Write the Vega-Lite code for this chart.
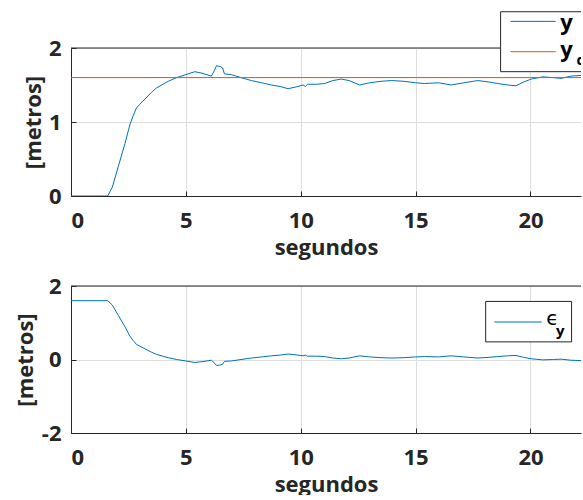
{
  "$schema": "https://vega.github.io/schema/vega-lite/v6.json",
  "padding": {"left": 14, "top": 11, "right": 0, "bottom": 0},
  "background": "white",
  "config": {
    "view": {"stroke": null},
    "font": "Open Sans",
    "axis": {
      "labelFont": "Open Sans",
      "labelFontWeight": "bold",
      "labelFontSize": 22,
      "labelColor": "#262626",
      "labelExpr": "'' + datum.value",
      "titleFont": "Open Sans",
      "titleFontWeight": "bold",
      "titleFontSize": 22,
      "titleColor": "#262626",
      "domainColor": "#262626",
      "domainWidth": 1,
      "tickColor": "#262626",
      "tickSize": -5,
      "gridColor": "#dedede",
      "gridWidth": 1
    }
  },
  "datasets": {
    "senal": [
      {"t": 0, "valor": 0}, {"t": 1.6, "valor": 0}, {"t": 1.8, "valor": 0.12},
      {"t": 2.06, "valor": 0.4}, {"t": 2.35, "valor": 0.71}, {"t": 2.56, "valor": 0.96},
      {"t": 2.7, "valor": 1.08}, {"t": 2.85, "valor": 1.19}, {"t": 3.0, "valor": 1.24},
      {"t": 3.22, "valor": 1.31}, {"t": 3.5, "valor": 1.4}, {"t": 3.72, "valor": 1.46},
      {"t": 4.0, "valor": 1.51}, {"t": 4.23, "valor": 1.55}, {"t": 4.6, "valor": 1.6},
      {"t": 5.0, "valor": 1.64}, {"t": 5.39, "valor": 1.68}, {"t": 5.7, "valor": 1.66},
      {"t": 6.11, "valor": 1.62}, {"t": 6.25, "valor": 1.7}, {"t": 6.33, "valor": 1.76},
      {"t": 6.5, "valor": 1.75}, {"t": 6.6, "valor": 1.73}, {"t": 6.68, "valor": 1.65},
      {"t": 6.98, "valor": 1.64}, {"t": 7.4, "valor": 1.6}, {"t": 7.85, "valor": 1.56},
      {"t": 8.3, "valor": 1.53}, {"t": 8.72, "valor": 1.5}, {"t": 9.1, "valor": 1.48},
      {"t": 9.45, "valor": 1.45}, {"t": 9.88, "valor": 1.48}, {"t": 10.1, "valor": 1.5},
      {"t": 10.2, "valor": 1.48}, {"t": 10.3, "valor": 1.51}, {"t": 10.7, "valor": 1.51},
      {"t": 11.04, "valor": 1.52}, {"t": 11.4, "valor": 1.56}, {"t": 11.77, "valor": 1.58},
      {"t": 12.1, "valor": 1.56}, {"t": 12.57, "valor": 1.5}, {"t": 13.0, "valor": 1.53},
      {"t": 13.5, "valor": 1.55}, {"t": 13.94, "valor": 1.56}, {"t": 14.5, "valor": 1.55},
      {"t": 15.0, "valor": 1.53}, {"t": 15.39, "valor": 1.52}, {"t": 16.0, "valor": 1.53},
      {"t": 16.55, "valor": 1.5}, {"t": 17.1, "valor": 1.53}, {"t": 17.71, "valor": 1.56},
      {"t": 18.2, "valor": 1.54}, {"t": 18.58, "valor": 1.52}, {"t": 19.0, "valor": 1.5},
      {"t": 19.37, "valor": 1.49}, {"t": 19.7, "valor": 1.54}, {"t": 20.03, "valor": 1.58},
      {"t": 20.53, "valor": 1.61}, {"t": 21.0, "valor": 1.6}, {"t": 21.33, "valor": 1.59},
      {"t": 21.77, "valor": 1.62}, {"t": 22.2, "valor": 1.63}, {"t": 22.6, "valor": 1.63}
    ],
    "referencia": [
      {"t": 0, "valor": 1.6}, {"t": 22.6, "valor": 1.6}
    ],
    "error": [
      {"t": 0, "valor": 1.6}, {"t": 1.6, "valor": 1.6}, {"t": 1.8, "valor": 1.48},
      {"t": 2.06, "valor": 1.2}, {"t": 2.35, "valor": 0.89}, {"t": 2.56, "valor": 0.64},
      {"t": 2.7, "valor": 0.52}, {"t": 2.85, "valor": 0.41}, {"t": 3.0, "valor": 0.36},
      {"t": 3.22, "valor": 0.29}, {"t": 3.5, "valor": 0.2}, {"t": 3.72, "valor": 0.14},
      {"t": 4.0, "valor": 0.09}, {"t": 4.23, "valor": 0.05}, {"t": 4.6, "valor": 0.0},
      {"t": 5.0, "valor": -0.04}, {"t": 5.39, "valor": -0.08}, {"t": 5.7, "valor": -0.06},
      {"t": 6.11, "valor": -0.02}, {"t": 6.25, "valor": -0.1}, {"t": 6.33, "valor": -0.16},
      {"t": 6.5, "valor": -0.15}, {"t": 6.6, "valor": -0.13}, {"t": 6.68, "valor": -0.05},
      {"t": 6.98, "valor": -0.04}, {"t": 7.4, "valor": 0.0}, {"t": 7.85, "valor": 0.04},
      {"t": 8.3, "valor": 0.07}, {"t": 8.72, "valor": 0.1}, {"t": 9.1, "valor": 0.12},
      {"t": 9.45, "valor": 0.15}, {"t": 9.88, "valor": 0.12}, {"t": 10.1, "valor": 0.1},
      {"t": 10.2, "valor": 0.12}, {"t": 10.3, "valor": 0.09}, {"t": 10.7, "valor": 0.09},
      {"t": 11.04, "valor": 0.08}, {"t": 11.4, "valor": 0.04}, {"t": 11.77, "valor": 0.02},
      {"t": 12.1, "valor": 0.04}, {"t": 12.57, "valor": 0.1}, {"t": 13.0, "valor": 0.07},
      {"t": 13.5, "valor": 0.05}, {"t": 13.94, "valor": 0.04}, {"t": 14.5, "valor": 0.05},
      {"t": 15.0, "valor": 0.07}, {"t": 15.39, "valor": 0.08}, {"t": 16.0, "valor": 0.07},
      {"t": 16.55, "valor": 0.1}, {"t": 17.1, "valor": 0.07}, {"t": 17.71, "valor": 0.04},
      {"t": 18.2, "valor": 0.06}, {"t": 18.58, "valor": 0.08}, {"t": 19.0, "valor": 0.1},
      {"t": 19.37, "valor": 0.11}, {"t": 19.7, "valor": 0.06}, {"t": 20.03, "valor": 0.02},
      {"t": 20.53, "valor": -0.01}, {"t": 21.0, "valor": 0.0}, {"t": 21.33, "valor": 0.01},
      {"t": 21.77, "valor": -0.02}, {"t": 22.2, "valor": -0.03}, {"t": 22.6, "valor": -0.03}
    ],
    "uno": [{}]
  },
  "bounds": "flush",
  "spacing": 90,
  "vconcat": [
    {
      "width": 510,
      "height": 148,
      "layer": [
        {
          "data": {"name": "senal"},
          "mark": {"type": "line", "color": "#0072BD", "strokeWidth": 1, "clip": true},
          "encoding": {
            "x": {
              "field": "t", "type": "quantitative",
              "scale": {"domain": [0, 22.2], "nice": false, "zero": false},
              "axis": {"values": [0, 5, 10, 15, 20], "title": "segundos", "grid": true, "labelPadding": 19, "titlePadding": 6}
            },
            "y": {
              "field": "valor", "type": "quantitative",
              "scale": {"domain": [0, 2], "nice": false},
              "axis": {"values": [0, 1, 2], "title": "[metros]", "grid": true, "labelPadding": 15, "titlePadding": 3}
            }
          }
        },
        {
          "data": {"name": "referencia"},
          "mark": {"type": "line", "color": "#D95319", "strokeWidth": 1, "clip": true},
          "encoding": {
            "x": {"field": "t", "type": "quantitative"},
            "y": {"field": "valor", "type": "quantitative"}
          }
        },
        {
          "data": {"name": "uno"},
          "mark": {"type": "rule", "color": "#262626", "strokeWidth": 1},
          "encoding": {
            "x": {"datum": 0, "type": "quantitative"},
            "x2": {"datum": 22.2},
            "y": {"datum": 2, "type": "quantitative"}
          }
        },
        {
          "data": {"name": "uno"},
          "mark": {"type": "rect", "fill": "white", "clip": false},
          "encoding": {
            "x": {"datum": 18.7, "type": "quantitative"},
            "x2": {"datum": 22.2},
            "y": {"datum": 2.49, "type": "quantitative"},
            "y2": {"datum": 1.68}
          }
        },
        {
          "data": {"name": "uno"},
          "mark": {"type": "rule", "color": "#262626", "strokeWidth": 1, "clip": false},
          "encoding": {
            "x": {"datum": 18.7, "type": "quantitative"},
            "y": {"datum": 2.49, "type": "quantitative"},
            "y2": {"datum": 1.68}
          }
        },
        {
          "data": {"name": "uno"},
          "mark": {"type": "rule", "color": "#262626", "strokeWidth": 1, "clip": false},
          "encoding": {
            "x": {"datum": 18.7, "type": "quantitative"},
            "x2": {"datum": 22.2},
            "y": {"datum": 2.49, "type": "quantitative"}
          }
        },
        {
          "data": {"name": "uno"},
          "mark": {"type": "rule", "color": "#262626", "strokeWidth": 1, "clip": false},
          "encoding": {
            "x": {"datum": 18.7, "type": "quantitative"},
            "x2": {"datum": 22.2},
            "y": {"datum": 1.68, "type": "quantitative"}
          }
        },
        {
          "data": {"name": "uno"},
          "mark": {"type": "rule", "color": "#0072BD", "strokeWidth": 1, "clip": false},
          "encoding": {
            "x": {"datum": 19.13, "type": "quantitative"},
            "x2": {"datum": 21.1},
            "y": {"datum": 2.36, "type": "quantitative"}
          }
        },
        {
          "data": {"name": "uno"},
          "mark": {"type": "rule", "color": "#D95319", "strokeWidth": 1, "clip": false},
          "encoding": {
            "x": {"datum": 19.13, "type": "quantitative"},
            "x2": {"datum": 21.1},
            "y": {"datum": 1.95, "type": "quantitative"}
          }
        },
        {
          "data": {"name": "uno"},
          "mark": {"type": "text", "text": "y", "font": "Open Sans", "fontWeight": "bold", "fontSize": 22, "color": "black", "align": "left", "baseline": "alphabetic", "clip": false},
          "encoding": {
            "x": {"datum": 21.3, "type": "quantitative"},
            "y": {"datum": 2.24, "type": "quantitative"}
          }
        },
        {
          "data": {"name": "uno"},
          "mark": {"type": "text", "text": "y", "font": "Open Sans", "fontWeight": "bold", "fontSize": 22, "color": "black", "align": "left", "baseline": "alphabetic", "clip": false},
          "encoding": {
            "x": {"datum": 21.3, "type": "quantitative"},
            "y": {"datum": 1.88, "type": "quantitative"}
          }
        },
        {
          "data": {"name": "uno"},
          "mark": {"type": "text", "text": "d", "font": "Open Sans", "fontWeight": "bold", "fontSize": 15, "color": "black", "align": "left", "baseline": "alphabetic", "clip": true},
          "encoding": {
            "x": {"datum": 22.0, "type": "quantitative"},
            "y": {"datum": 1.77, "type": "quantitative"}
          }
        }
      ]
    },
    {
      "width": 510,
      "height": 147,
      "layer": [
        {
          "data": {"name": "error"},
          "mark": {"type": "line", "color": "#0072BD", "strokeWidth": 1, "clip": true},
          "encoding": {
            "x": {
              "field": "t", "type": "quantitative",
              "scale": {"domain": [0, 22.2], "nice": false, "zero": false},
              "axis": {"values": [0, 5, 10, 15, 20], "title": "segundos", "grid": true, "labelPadding": 19, "titlePadding": 6}
            },
            "y": {
              "field": "valor", "type": "quantitative",
              "scale": {"domain": [-2, 2], "nice": false},
              "axis": {"values": [-2, 0, 2], "title": "[metros]", "grid": true, "labelPadding": 15, "titlePadding": 4}
            }
          }
        },
        {
          "data": {"name": "uno"},
          "mark": {"type": "rule", "color": "#262626", "strokeWidth": 1},
          "encoding": {
            "x": {"datum": 0, "type": "quantitative"},
            "x2": {"datum": 22.2},
            "y": {"datum": 2, "type": "quantitative"}
          }
        },
        {
          "data": {"name": "uno"},
          "mark": {"type": "rect", "fill": "white", "stroke": "#262626", "strokeWidth": 1},
          "encoding": {
            "x": {"datum": 18.05, "type": "quantitative"},
            "x2": {"datum": 21.79},
            "y": {"datum": 1.58, "type": "quantitative"},
            "y2": {"datum": 0.48}
          }
        },
        {
          "data": {"name": "uno"},
          "mark": {"type": "rule", "color": "#0072BD", "strokeWidth": 1},
          "encoding": {
            "x": {"datum": 18.43, "type": "quantitative"},
            "x2": {"datum": 20.49},
            "y": {"datum": 1.02, "type": "quantitative"}
          }
        },
        {
          "data": {"name": "uno"},
          "mark": {"type": "text", "text": "ϵ", "font": "DejaVu Sans", "fontSize": 20, "color": "black", "align": "left", "baseline": "alphabetic"},
          "encoding": {
            "x": {"datum": 20.69, "type": "quantitative"},
            "y": {"datum": 0.94, "type": "quantitative"}
          }
        },
        {
          "data": {"name": "uno"},
          "mark": {"type": "text", "text": "y", "font": "Open Sans", "fontWeight": "bold", "fontSize": 15, "color": "black", "align": "left", "baseline": "alphabetic"},
          "encoding": {
            "x": {"datum": 21.11, "type": "quantitative"},
            "y": {"datum": 0.65, "type": "quantitative"}
          }
        }
      ]
    }
  ]
}
